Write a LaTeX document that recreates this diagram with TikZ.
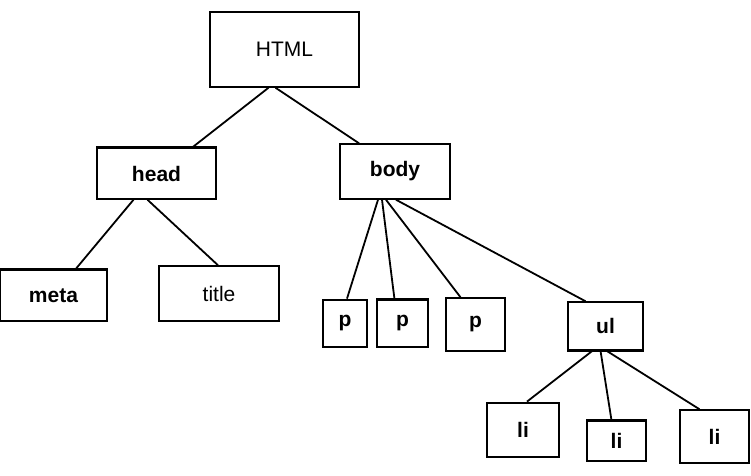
\documentclass[tikz,border=0pt]{standalone}
\usepackage{fontspec}
\setmainfont{Liberation Sans}
\usepackage{tikz}
\usetikzlibrary{positioning,calc}

\begin{document}
\begin{tikzpicture}[x=1pt,y=-1pt,
    tag/.style={draw,line width=1.5pt,inner sep=0pt,font=\fontsize{21}{24}\selectfont\bfseries},
    plain/.style={tag,font=\fontsize{21}{24}\selectfont},
    heavy/.style={tag,line width=2.8pt},
    edge/.style={line width=1.8pt}]
  \useasboundingbox (0,0) rectangle (751,475);
  % root and first level
  \node[plain,minimum width=149pt,minimum height=75pt] (html) at (284.5,49.5) {HTML};
  \node[tag,minimum width=119pt,minimum height=51pt] (head) at (156.5,173.5) {head};
  \node[tag,minimum width=110pt,minimum height=55pt] (body) at (395,171.5) {body};
  % children of head
  \node[tag,minimum width=107pt,minimum height=51pt] (meta) at (53.5,295.5) {meta};
  \node[plain,minimum width=120pt,minimum height=55pt] (title) at (219,293.5) {title};
  % children of body
  \node[heavy,minimum width=44pt,minimum height=47pt] (p1) at (345,323.5) {p};
  \node[tag,minimum width=51pt,minimum height=47pt] (p2) at (402.5,323.5) {p};
  \node[tag,minimum width=59pt,minimum height=53pt] (p3) at (475.5,324.5) {p};
  \node[tag,minimum width=75pt,minimum height=48pt] (ul) at (605.5,326) {ul};
  % list items
  \node[heavy,minimum width=72pt,minimum height=54pt] (li1) at (523,430) {li};
  \node[tag,minimum width=59pt,minimum height=40pt] (li2) at (616.5,441) {li};
  \node[tag,minimum width=69pt,minimum height=53pt] (li3) at (714.5,436.5) {li};
  % heavier edges of the scan
  \draw[line width=2.8pt] (head.north west) -- (head.north east);
  \draw[line width=2.8pt] (meta.south west) -- (meta.north west) -- (meta.north east);
  \draw[line width=2.8pt] (p2.north west) -- (p2.north east);
  \draw[line width=2.8pt] (ul.south west) -- (ul.south east);
  \draw[line width=2.8pt] (li2.north west) -- (li2.north east);
  % connectors
  \draw[edge] ([xshift=-16pt]html.south) -- ([xshift=36pt]head.north);
  \draw[edge] ([xshift=-9pt]html.south) -- ([xshift=-36pt]body.north);
  \draw[edge] ([xshift=-23pt]head.south) -- ([xshift=22pt]meta.north);
  \draw[edge] ([xshift=-9pt]head.south) -- ([xshift=-1pt]title.north);
  \draw[edge] ([xshift=-17pt]body.south) -- ([xshift=2pt]p1.north);
  \draw[edge] ([xshift=-13pt]body.south) -- ([xshift=-8pt]p2.north);
  \draw[edge] ([xshift=-9pt]body.south) -- ([xshift=-15pt]p3.north);
  \draw[edge] ([xshift=1pt]body.south) -- ([xshift=-20pt]ul.north);
  \draw[edge] ([xshift=-13pt]ul.south) -- ([xshift=4pt]li1.north);
  \draw[edge] ([xshift=-5pt]ul.south) -- ([xshift=-5pt]li2.north);
  \draw[edge] ([xshift=1pt]ul.south) -- ([xshift=-15pt]li3.north);
\end{tikzpicture}
\end{document}
